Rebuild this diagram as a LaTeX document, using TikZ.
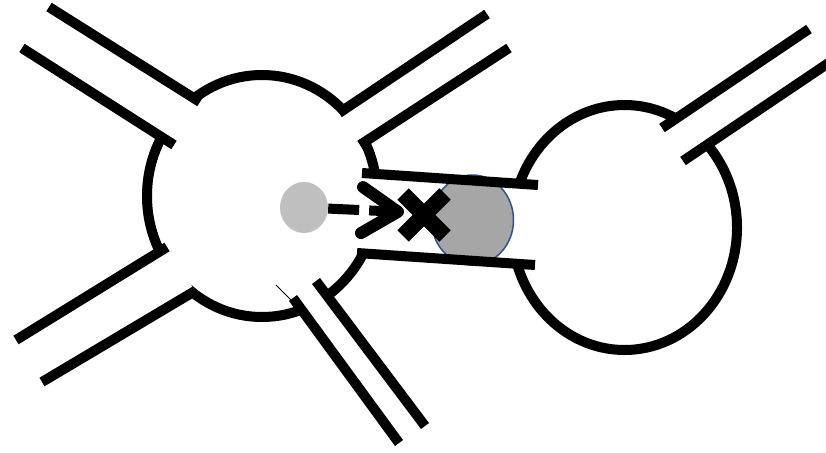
\documentclass[tikz,border=0pt]{standalone}
\usetikzlibrary{arrows.meta, shapes.geometric, shapes.misc}

\definecolor{lgrey}{HTML}{BFBFBF}
\definecolor{dgrey}{HTML}{A6A6A6}
\definecolor{rim}{HTML}{2F528F}

\tikzset{
  wall/.style={black, line width=10pt},
  gap/.style={fill=white},
}

\begin{document}
\begin{tikzpicture}[x=1pt, y=-1pt]
        \useasboundingbox (0,0) rectangle (826,452);
        % the two chambers
        \draw [wall] (262,196) ellipse [x radius=115pt, y radius=121pt];
        \draw [wall] (624.5,227.5) ellipse [x radius=112.5pt, y radius=122.5pt];
        % channel ends: line 1 and line 2, inner (i) and outer (o) end
        \coordinate (nw1i) at (200,102);   \coordinate (nw1o) at (49,7);
        \coordinate (nw2i) at (174,145);   \coordinate (nw2o) at (22,48);
        \coordinate (ne1i) at (339,113);   \coordinate (ne1o) at (487,14);
        \coordinate (ne2i) at (360,145);   \coordinate (ne2o) at (509,48);
        \coordinate (sw1i) at (167,247);   \coordinate (sw1o) at (16,340);
        \coordinate (sw2i) at (195,291);   \coordinate (sw2o) at (42,382);
        \coordinate (so1i) at (293,298);   \coordinate (so1o) at (399,443);
        \coordinate (so2i) at (316,281);   \coordinate (so2o) at (425,426);
        \coordinate (mid1i) at (362,173);  \coordinate (mid1o) at (538,185);
        \coordinate (mid2i) at (357,253);  \coordinate (mid2o) at (535,265);
        \coordinate (far1i) at (662,128);  \coordinate (far1o) at (809,29);
        \coordinate (far2i) at (683,161);  \coordinate (far2o) at (830,62);
        % open the chamber walls
        \foreach \c in {nw,ne,sw,so,mid,far}
          \fill [gap] (\c1i) -- (\c1o) -- (\c2o) -- (\c2i) -- cycle;
        \node [ellipse, fill=dgrey, draw=rim, line width=1.5pt, inner sep=0pt,
               minimum width=82pt, minimum height=90pt] (big) at (472.5,220) {};
        \foreach \c in {nw,ne,sw,so,mid,far} {
          \draw [wall] (\c1i) -- (\c1o);
          \draw [wall] (\c2i) -- (\c2o);
        }
        \draw [line width=0.8pt] (276,285) -- (291,300);
        % small particle and its blocked path
        \node [ellipse, fill=lgrey, inner sep=0pt,
               minimum width=48pt, minimum height=51pt] (small) at (304,207.5) {};
        \coordinate (tip) at (404,212);
        \draw [line width=10pt, dash pattern=on 31pt off 10pt on 200pt,
               -{Straight Barb[length=36pt, width=46pt, line width=12pt, round]}] (small) -- (tip);
        \node [cross out, draw, line width=16pt, inner sep=0pt, outer sep=0pt,
               minimum size=42pt] (stop) at (424,215) {};
\end{tikzpicture}
\end{document}
